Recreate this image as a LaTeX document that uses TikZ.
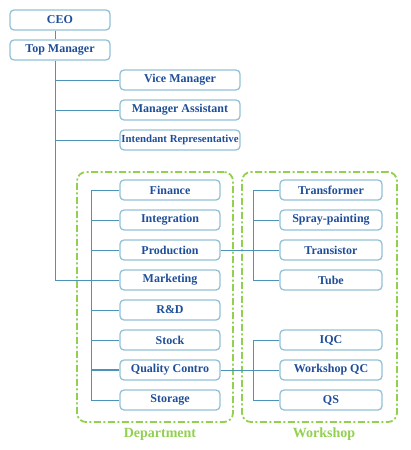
\documentclass[tikz,border=0pt]{standalone}
\usepackage{fontspec}
\setmainfont{Liberation Serif}
\definecolor{boxline}{HTML}{93C1D6}
\definecolor{conline}{HTML}{4C93B8}
\definecolor{txtblue}{HTML}{1F4E99}
\definecolor{grpgreen}{HTML}{92D050}
\tikzset{
  box/.style={draw=boxline, line width=1.3pt, fill=white, rounded corners=4pt,
    minimum height=20pt, inner sep=0pt, text=txtblue,
    font=\fontsize{12}{13}\selectfont\bfseries},
  conn/.style={draw=conline, line width=0.9pt},
  grp/.style={draw=grpgreen, line width=1.8pt, rounded corners=9pt,
    dash pattern=on 7pt off 2.5pt on 2pt off 2.5pt, inner sep=0pt},
  grplabel/.style={text=grpgreen, font=\fontsize{14}{15}\selectfont\bfseries}
}
\begin{document}
\begin{tikzpicture}[x=1pt,y=-1pt]
\useasboundingbox (0,0) rectangle (410,450);
% groups
\node[grp, minimum width=156pt, minimum height=250pt] (deptbox) at (155,297) {};
\node[grp, minimum width=155pt, minimum height=250pt] (wsbox) at (319.5,297) {};
\node[grplabel] (deptlbl) at (160,434) {Department};
\node[grplabel] (wslbl) at (324,434) {Workshop};
% nodes
\node[box, minimum width=100pt] (ceo) at (60,20) {CEO};
\node[box, minimum width=100pt] (top) at (60,50) {Top Manager};
\node[box, minimum width=120pt] (vice) at (180,80) {Vice Manager};
\node[box, minimum width=120pt] (assist) at (180,110) {Manager Assistant};
\node[box, minimum width=120pt, font=\fontsize{10.8}{12}\selectfont\bfseries] (intend) at (180,140) {Intendant Representative};
\node[box, minimum width=100pt] (fin) at (170,190) {Finance};
\node[box, minimum width=100pt] (integ) at (170,220) {Integration};
\node[box, minimum width=100pt] (prod) at (170,250) {Production};
\node[box, minimum width=100pt] (mkt) at (170,280) {Marketing};
\node[box, minimum width=100pt] (rd) at (170,310) {R\&D};
\node[box, minimum width=100pt] (stock) at (170,340) {Stock};
\node[box, minimum width=100pt] (qc) at (170,370) {Quality Contro};
\node[box, minimum width=100pt] (stor) at (170,400) {Storage};
\node[box, minimum width=102pt] (trf) at (331,190) {Transformer};
\node[box, minimum width=102pt] (spray) at (331,220) {Spray-painting};
\node[box, minimum width=102pt] (trans) at (331,250) {Transistor};
\node[box, minimum width=102pt] (tube) at (331,280) {Tube};
\node[box, minimum width=102pt] (iqc) at (331,340) {IQC};
\node[box, minimum width=102pt] (wqc) at (331,370) {Workshop QC};
\node[box, minimum width=102pt] (qs) at (331,400) {QS};
% spines
\coordinate (s) at (55,0);
\coordinate (d) at (91,0);
\coordinate (w) at (253,0);
% connectors
\draw[conn] (ceo.south -| s) -- (top.north -| s);
\draw[conn] (top.south -| s) |- (mkt.west);
\draw[conn] (s |- vice) -- (vice.west);
\draw[conn] (s |- assist) -- (assist.west);
\draw[conn] (s |- intend) -- (intend.west);
\draw[conn] (fin.west) -| (d |- stor) -- (stor.west);
\draw[conn] (d |- integ) -- (integ.west);
\draw[conn] (d |- prod) -- (prod.west);
\draw[conn] (d |- rd) -- (rd.west);
\draw[conn] (d |- stock) -- (stock.west);
\draw[conn, line width=1.6pt] (d |- qc) -- (qc.west);
\draw[conn] (prod.east) -- (trans.west);
\draw[conn] (trf.west) -| (w |- tube) -- (tube.west);
\draw[conn] (w |- spray) -- (spray.west);
\draw[conn] (iqc.west) -| (w |- qs) -- (qs.west);
\draw[conn] (qc.east) -- (wqc.west);
\end{tikzpicture}
\end{document}
